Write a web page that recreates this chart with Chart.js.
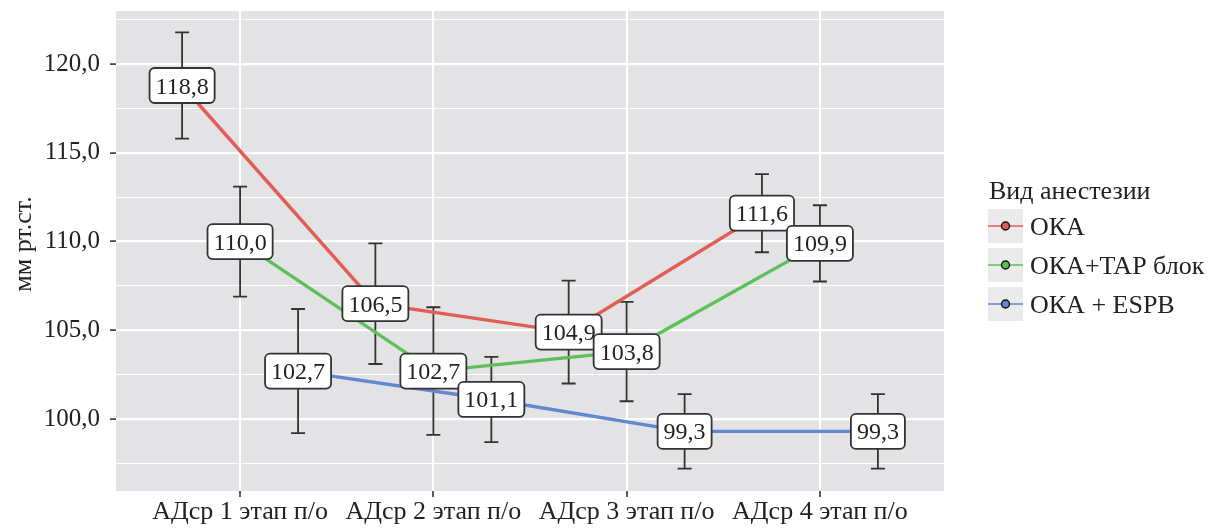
<!DOCTYPE html>
<html lang="ru">
<head>
<meta charset="utf-8">
<title>АДср по этапам</title>
<script src="https://cdn.jsdelivr.net/npm/chart.js@4.4.1/dist/chart.umd.min.js"></script>
<style>
  html, body { margin: 0; padding: 0; background: #fff; }
  #wrap { width: 1218px; height: 528px; }
</style>
</head>
<body>
<div id="wrap"><canvas id="bpChart" width="1218" height="528"></canvas></div>
<script>
"use strict";

// этапы и средние значения АДср (мм рт.ст.) с погрешностью
const stages = ["АДср 1 этап п/о", "АДср 2 этап п/о", "АДср 3 этап п/о", "АДср 4 этап п/о"];
const groupNames = ["ОКА", "ОКА+TAP блок", "ОКА + ESPB"];
const okaMean = [118.8, 106.5, 104.9, 111.6];
const okaErr = [3.0, 3.4, 2.9, 2.2];
const tapMean = [110.0, 102.7, 103.8, 109.9];
const tapErr = [3.1, 3.6, 2.8, 2.15];
const espbMean = [102.7, 101.1, 99.3, 99.3];
const espbErr = [3.5, 2.4, 2.1, 2.1];
const yTicks = [97.5, 100, 102.5, 105, 107.5, 110, 112.5, 115, 117.5, 120, 122.5];

const colors = ["#e25d56", "#5dbf5a", "#6686cf"];
const dodge = [-0.3, 0, 0.3];
const SERIF = "'Liberation Serif', 'DejaVu Serif', serif";

const means = [okaMean, tapMean, espbMean];
const errs = [okaErr, tapErr, espbErr];

function fmt(v) {
	return v.toFixed(1).replace(".", ",");
}

// серый фон панели как в ggplot
const panelBg = {
	id: "panelBg",
	beforeDraw(chart) {
		const { ctx, chartArea: a } = chart;
		ctx.save();
		ctx.fillStyle = "#ffffff";
		ctx.fillRect(0, 0, chart.width, chart.height);
		ctx.fillStyle = "#e3e3e5";
		ctx.fillRect(a.left, a.top, a.right - a.left, a.bottom - a.top);
		ctx.restore();
	}
};

// планки погрешностей под линиями
const errorBars = {
	id: "errorBars",
	beforeDatasetsDraw(chart) {
		const { ctx, scales: { x, y } } = chart;
		ctx.save();
		ctx.strokeStyle = "#333";
		ctx.lineWidth = 1.8;
		means.forEach((m, g) => {
			m.forEach((v, i) => {
				const px = x.getPixelForValue(i + 1 + dodge[g]);
				const top = y.getPixelForValue(v + errs[g][i]);
				const bot = y.getPixelForValue(v - errs[g][i]);
				ctx.beginPath();
				ctx.moveTo(px, top);
				ctx.lineTo(px, bot);
				ctx.moveTo(px - 7, top);
				ctx.lineTo(px + 7, top);
				ctx.moveTo(px - 7, bot);
				ctx.lineTo(px + 7, bot);
				ctx.stroke();
			});
		});
		ctx.restore();
	}
};

// подписи значений в рамках
const valueLabels = {
	id: "valueLabels",
	afterDatasetsDraw(chart) {
		const { ctx, scales: { x, y } } = chart;
		ctx.save();
		ctx.font = "24px " + SERIF;
		ctx.textAlign = "center";
		ctx.textBaseline = "alphabetic";
		means.forEach((m, g) => {
			m.forEach((v, i) => {
				const px = x.getPixelForValue(i + 1 + dodge[g]);
				const py = y.getPixelForValue(v);
				const txt = fmt(v);
				const w = ctx.measureText(txt).width + 12;
				const h = 35;
				ctx.beginPath();
				ctx.roundRect(px - w / 2, py - h / 2, w, h, 5);
				ctx.fillStyle = "#ffffff";
				ctx.fill();
				ctx.lineWidth = 1.8;
				ctx.strokeStyle = "#333";
				ctx.stroke();
				ctx.fillStyle = "#222";
				ctx.fillText(txt, px, py + 8);
			});
		});
		ctx.restore();
	}
};

// подпись оси Y и легенда справа
const sideText = {
	id: "sideText",
	afterDraw(chart) {
		const ctx = chart.ctx;
		ctx.save();
		ctx.fillStyle = "#222";
		ctx.font = "26px " + SERIF;
		ctx.textAlign = "center";
		ctx.textBaseline = "middle";
		ctx.translate(24, 244);
		ctx.rotate(-Math.PI / 2);
		ctx.fillText("мм рт.ст.", 0, 0);
		ctx.restore();

		ctx.save();
		ctx.font = "26px " + SERIF;
		ctx.fillStyle = "#222";
		ctx.textBaseline = "alphabetic";
		ctx.fillText("Вид анестезии", 989, 199);
		groupNames.forEach((name, g) => {
			const top = 209 + g * 39;
			ctx.fillStyle = "#ebebeb";
			ctx.fillRect(988, top, 35, 34);
			const cy = top + 17;
			ctx.strokeStyle = colors[g];
			ctx.lineWidth = 1.6;
			ctx.beginPath();
			ctx.moveTo(988, cy);
			ctx.lineTo(1023, cy);
			ctx.stroke();
			ctx.beginPath();
			ctx.arc(1005.5, cy, 4, 0, Math.PI * 2);
			ctx.fillStyle = colors[g];
			ctx.fill();
			ctx.strokeStyle = "#111";
			ctx.lineWidth = 1.4;
			ctx.stroke();
			ctx.fillStyle = "#222";
			ctx.fillText(name, 1030, cy + 8.5);
		});
		ctx.restore();
	}
};

const datasets = means.map((m, g) => ({
	label: groupNames[g],
	data: m.map((v, i) => ({ x: i + 1 + dodge[g], y: v })),
	borderColor: colors[g],
	backgroundColor: colors[g],
	borderWidth: 3.4,
	pointRadius: 0,
	tension: 0
}));

const ctx = document.getElementById("bpChart").getContext("2d");

new Chart(ctx, {
	type: "line",
	data: { datasets },
	options: {
		responsive: false,
		animation: false,
		devicePixelRatio: 1,
		layout: { padding: { left: 0, right: 274, top: 11, bottom: 0 } },
		plugins: {
			legend: { display: false },
			tooltip: { enabled: false }
		},
		scales: {
			x: {
				type: "linear",
				min: 0.358,
				max: 4.642,
				afterBuildTicks: (s) => { s.ticks = stages.map((_, i) => ({ value: i + 1 })); },
				afterFit: (s) => {
					s.height = 37;
					s.paddingLeft = 0;
					s.paddingRight = 0;
				},
				border: { display: false },
				grid: {
					color: "#ffffff",
					lineWidth: 2,
					tickColor: "#333",
					tickLength: 6,
					tickWidth: 1.6
				},
				ticks: {
					autoSkip: false,
					maxRotation: 0,
					padding: 0,
					color: "#222",
					font: { family: SERIF, size: 26 },
					callback: (v, i) => stages[i]
				}
			},
			y: {
				min: 95.94,
				max: 123.0,
				afterBuildTicks: (s) => { s.ticks = yTicks.map((v) => ({ value: v })); },
				afterFit: (s) => {
					s.width = 116;
					s.paddingTop = 0;
					s.paddingBottom = 0;
				},
				border: { display: false },
				grid: {
					color: "#ffffff",
					lineWidth: (c) => (c.tick && c.tick.value % 5 === 0 ? 2.2 : 1.1),
					tickColor: (c) => (c.tick && c.tick.value % 5 === 0 ? "#333" : "rgba(0,0,0,0)"),
					tickLength: 6,
					tickWidth: 1.6
				},
				ticks: {
					autoSkip: false,
					padding: 10,
					color: "#222",
					font: { family: SERIF, size: 25 },
					callback: (v) => (v % 5 === 0 ? fmt(v) : "")
				}
			}
		}
	},
	plugins: [panelBg, errorBars, valueLabels, sideText]
});
</script>
</body>
</html>
